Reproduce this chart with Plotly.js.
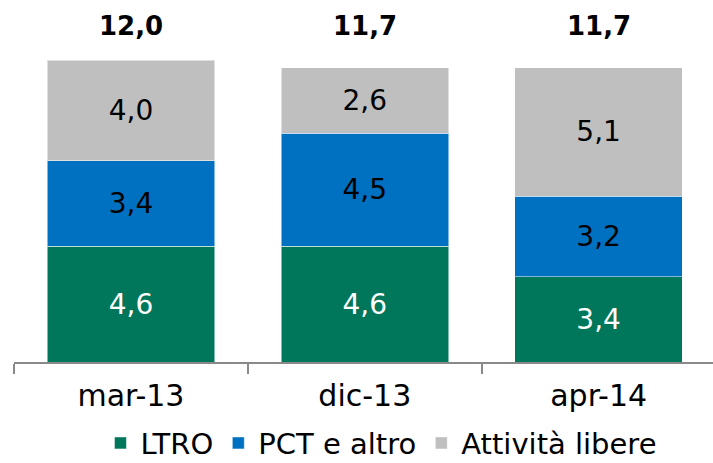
<!DOCTYPE html>
<html>
<head>
<meta charset="utf-8">
<script src="https://cdn.plot.ly/plotly-3.0.1.min.js"></script>
<style>html,body{margin:0;padding:0;background:#fff;}#chart{width:713px;height:463px;}</style>
</head>
<body>
<div id="chart"></div>
<script>
// Data
const categories = ["mar-13", "dic-13", "apr-14"];
const seriesNames = ["LTRO", "PCT e altro", "Attività libere"];
const ltro = [4.6, 4.6, 3.4];
const pct = [3.4, 4.5, 3.2];
const libere = [4.0, 2.6, 5.1];
const totals = [12.0, 11.7, 11.7];

const FONT = "DejaVu Sans";
const colors = ["#00765A", "#0070C0", "#BFBFBF"];
const textColors = ["#FFFFFF", "#000000", "#000000"];
const values = [ltro, pct, libere];

const traces = values.map((v, i) => ({
  type: "bar",
  name: seriesNames[i],
  x: categories,
  y: v,
  marker: {color: colors[i], line: {color: "rgba(255,255,255,0.5)", width: 1}},
  texttemplate: "%{y:.1f}",
  textposition: "inside",
  insidetextanchor: "middle",
  textangle: 0,
  textfont: {family: FONT, size: 28, color: textColors[i]},
  hoverinfo: "skip"
}));

const totalLabelY = 13.36;
const annotations = categories.map((c, i) => ({
  x: c, y: totalLabelY, xref: "x", yref: "y",
  text: "<b>" + totals[i].toFixed(1).replace(".", ",") + "</b>",
  showarrow: false,
  font: {family: FONT, size: 26, color: "#000"},
  xanchor: "center", yanchor: "middle"
}));

const layout = {
  width: 713, height: 463,
  margin: {l: 13.5, r: 0, t: 10, b: 100.5},
  barmode: "stack",
  bargap: 0.284,
  separators: ",.",
  paper_bgcolor: "#fff",
  plot_bgcolor: "#fff",
  showlegend: true,
  legend: {
    orientation: "h",
    xref: "container", yref: "container",
    x: 0.535, xanchor: "center",
    y: 0.043, yanchor: "middle",
    font: {family: FONT, size: 29, color: "#000"},
    traceorder: "normal",
    itemclick: false
  },
  xaxis: {
    type: "category",
    range: [-0.5, 2.489],
    showline: true, linecolor: "#898989", linewidth: 2,
    ticks: "outside", tickson: "boundaries", ticklen: 10, tickwidth: 2, tickcolor: "#898989",
    ticklabelstandoff: 6,
    tickfont: {family: FONT, size: 30, color: "#000"},
    showgrid: false, zeroline: false,
    fixedrange: true
  },
  yaxis: {
    range: [0, 14],
    visible: false,
    showgrid: false, zeroline: false,
    fixedrange: true
  },
  annotations: annotations
};

Plotly.newPlot("chart", traces, layout, {staticPlot: true, displayModeBar: false});
</script>
</body>
</html>
